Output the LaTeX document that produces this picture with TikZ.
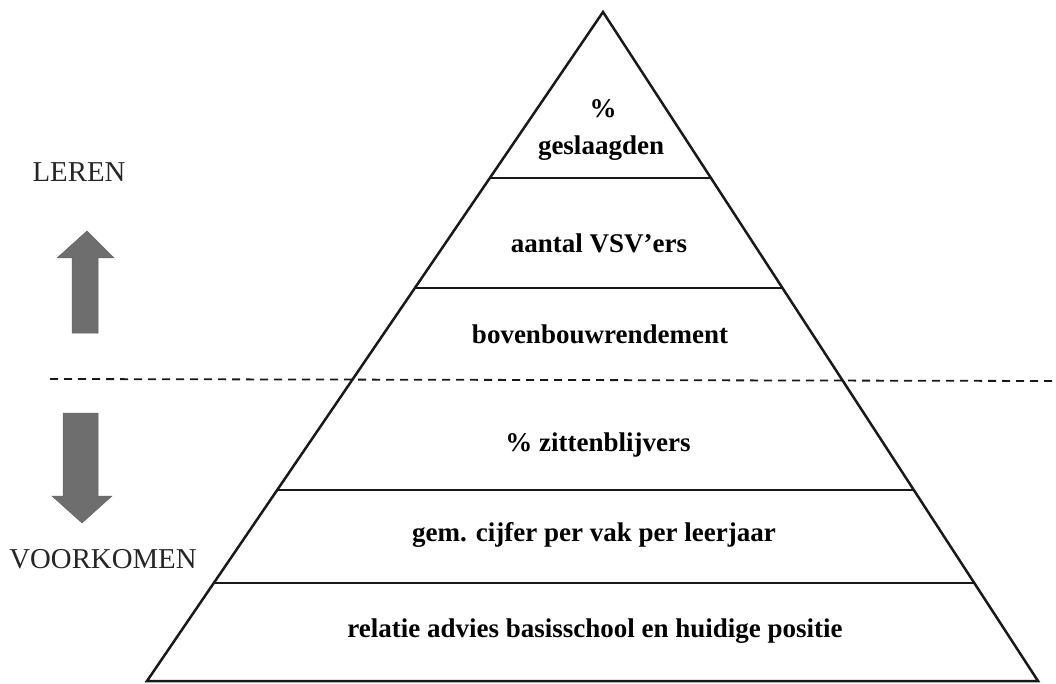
\documentclass[tikz,border=0pt]{standalone}
\usepackage{fontspec}
\setmainfont{Liberation Serif}
\usetikzlibrary{calc}
\begin{document}
\begin{tikzpicture}[x=1pt,y=-1pt,
  layer/.style={font=\fontsize{27}{30}\selectfont\bfseries, text=black, inner sep=0pt},
  sidelabel/.style={font=\fontsize{28.8}{32}\selectfont, text=black!85, inner sep=0pt},
  rule/.style={line width=2.8pt, black!90},
  edge/.style={line width=2.5pt, black!90, line join=miter},
  fatarrow/.style={fill=black!57, draw=black!60, line width=0.5pt}]
\useasboundingbox (0,0) rectangle (1056,684);
\fill[white] (0,0) rectangle (1056,684);

% corners of the pyramid
\coordinate (apex) at (603,12);
\coordinate (bl) at (147,681);
\coordinate (br) at (1038,681);

% horizontal dividers between the layers
\draw[rule] ($(apex)!0.2481!(bl)$) -- ($(apex)!0.2481!(br)$);
\draw[rule] ($(apex)!0.4126!(bl)$) -- ($(apex)!0.4126!(br)$);
\draw[rule] ($(apex)!0.7145!(bl)$) -- ($(apex)!0.7145!(br)$);
\draw[rule] ($(apex)!0.8535!(bl)$) -- ($(apex)!0.8535!(br)$);

% outline
\draw[edge] (apex) -- (bl) -- (br) -- cycle;

% dashed separation between learning and prevention
\coordinate (dashL) at (50,379);
\coordinate (dashR) at (1056,381);
\draw[line width=1.8pt, black!90, dash pattern=on 8pt off 6pt] (dashL) -- (dashR);

% layer labels
\node[layer] (pct) at (603,109) {\%};
\node[layer] (geslaagden) at (601,148) {geslaagden};
\node[layer] (vsv) at (599,243) {aantal VSV'ers};
\node[layer] (bovenbouw) at (600,334) {bovenbouwrendement};
\node[layer] (zitten) at (598,445) {\% zittenblijvers};
\node[layer] (cijfer) at (594,535) {gem. cijfer per vak per leerjaar};
\node[layer] (advies) at (595,631) {relatie advies basisschool en huidige positie};

% side labels
\node[sidelabel] (leren) at (79,172) {LEREN};
\node[sidelabel] (voorkomen) at (103,559) {VOORKOMEN};

% upward arrow
\filldraw[fatarrow] (72,333) -- (72,258) -- (57,258) -- (87,231) -- (114,258)
  -- (98,258) -- (98,333) -- cycle;
% downward arrow
\filldraw[fatarrow] (63,413) -- (98,413) -- (98,496) -- (112,496) -- (82,523)
  -- (52,496) -- (63,496) -- cycle;
\end{tikzpicture}
\end{document}
